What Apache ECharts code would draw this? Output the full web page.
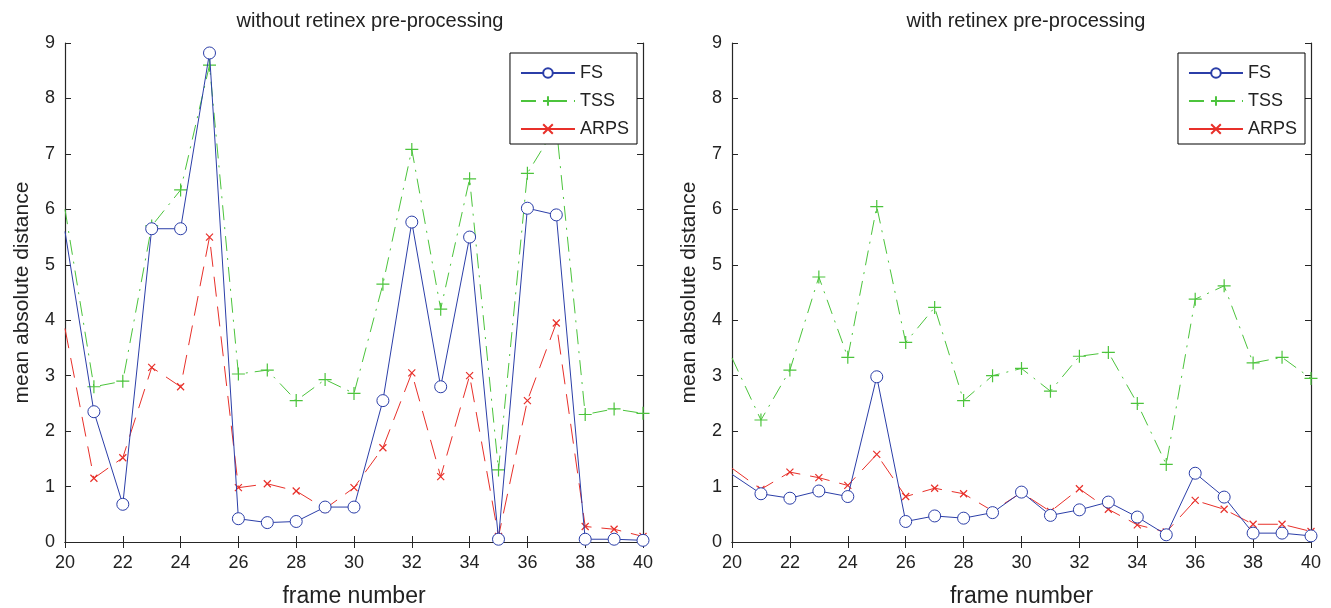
<!DOCTYPE html>
<html><head><meta charset="utf-8">
<script src="https://cdn.jsdelivr.net/npm/echarts@6/dist/echarts.min.js"></script>
<style>html,body{margin:0;padding:0;background:#fff}#c{width:1331px;height:608px}</style>
</head><body><div id="c"></div>
<script>
const frames = [20,21,22,23,24,25,26,27,28,29,30,31,32,33,34,35,36,37,38,39,40];
const titles = ['without retinex pre-processing','with retinex pre-processing'];
const seriesNames = ['FS','TSS','ARPS'];
const xTicks = [20,22,24,26,28,30,32,34,36,38,40];
const yTicks = [0,1,2,3,4,5,6,7,8,9];
// without retinex (value at 20 is where the line enters the axes)
const fsWithout   = [5.6,2.35,0.68,5.65,5.65,8.82,0.42,0.35,0.37,0.63,0.63,2.55,5.77,2.8,5.5,0.05,6.02,5.9,0.05,0.05,0.03];
const tssWithout  = [6.0,2.8,2.9,5.7,6.35,8.6,3.03,3.1,2.55,2.93,2.68,4.65,7.08,4.2,6.55,1.3,6.65,7.5,2.3,2.4,2.32];
const arpsWithout = [3.85,1.15,1.52,3.15,2.8,5.5,0.98,1.05,0.92,0.6,0.98,1.7,3.05,1.18,3.0,0.1,2.55,3.95,0.28,0.23,0.1];
// with retinex
const fsWith   = [1.22,0.87,0.79,0.92,0.82,2.98,0.37,0.47,0.43,0.53,0.9,0.48,0.58,0.72,0.45,0.13,1.24,0.81,0.16,0.16,0.11];
const tssWith  = [3.32,2.2,3.1,4.78,3.33,6.05,3.6,4.23,2.55,3.0,3.13,2.72,3.35,3.42,2.5,1.4,4.38,4.62,3.23,3.33,2.95];
const arpsWith = [1.33,0.95,1.26,1.16,1.02,1.58,0.82,0.97,0.87,0.56,0.89,0.55,0.96,0.59,0.31,0.18,0.75,0.59,0.32,0.32,0.19];

const BLUE='#2b3ea8', GREEN='#4cc43c', RED='#e8302a', AX='#262626';
const FONT='"Liberation Sans", Arial, Helvetica, sans-serif';
const plus='path://M0,5L10,5M5,0L5,10';
const cross='path://M0,0L10,10M10,0L0,10';

const grids=[{left:65,right:688,top:43,bottom:66,outerBoundsMode:'none',containLabel:false},
             {left:732,right:20,top:43,bottom:66,outerBoundsMode:'none',containLabel:false}];
// first frame (20) is only the line's entry point at the axis edge: no marker there
const pair=(a)=>frames.map((f,i)=> i===0 ? {value:[f,a[i]],symbol:'none'} : [f,a[i]]);
const datasets=[[fsWithout,tssWithout,arpsWithout],[fsWith,tssWith,arpsWith]];

const xAxis=[],yAxis=[],series=[],title=[],legend=[];
grids.forEach((g,k)=>{
  xAxis.push({gridIndex:k,type:'value',min:20,max:40,interval:2,position:'bottom',
    name:'frame number',nameLocation:'middle',nameGap:43,nameMoveOverlap:false,
    nameTextStyle:{fontFamily:FONT,fontSize:23,color:'#222',verticalAlign:'top'},
    axisLine:{lineStyle:{color:AX,width:1.2}},axisTick:{inside:true,length:6,lineStyle:{color:AX}},
    axisLabel:{fontFamily:FONT,fontSize:18,color:'#222',margin:12,formatter:v=>xTicks.includes(v)?String(v):''},
    splitLine:{show:false}});
  xAxis.push({gridIndex:k,type:'value',min:20,max:40,interval:2,position:'top',
    axisLine:{lineStyle:{color:AX,width:1.2}},axisTick:{inside:true,length:6,lineStyle:{color:AX}},
    axisLabel:{show:false},splitLine:{show:false}});
  yAxis.push({gridIndex:k,type:'value',min:0,max:9,interval:1,position:'left',
    name:'mean absolute distance',nameLocation:'middle',nameGap:32,nameRotate:90,nameMoveOverlap:false,
    nameTextStyle:{fontFamily:FONT,fontSize:21,color:'#222'},
    axisLine:{lineStyle:{color:AX,width:1.2}},axisTick:{inside:true,length:6,lineStyle:{color:AX}},
    axisLabel:{fontFamily:FONT,fontSize:18,color:'#222',margin:10,formatter:v=>yTicks.includes(v)?String(v):''},
    splitLine:{show:false}});
  yAxis.push({gridIndex:k,type:'value',min:0,max:9,interval:1,position:'right',
    axisLine:{lineStyle:{color:AX,width:1.2}},axisTick:{inside:true,length:6,lineStyle:{color:AX}},
    axisLabel:{show:false},splitLine:{show:false}});
  const cx = k===0 ? 365 : 1021;
  title.push({text:titles[k],left:cx,top:6,textAlign:'center',
    textStyle:{fontFamily:FONT,fontSize:20,fontWeight:'normal',color:'#222'}});
  legend.push({data:[{name:'FS'},{name:'TSS'},{name:'ARPS',lineStyle:{type:'solid'}}],
    orient:'vertical',right:k===0?694:26,top:53,
    backgroundColor:'#fff',borderColor:'#000',borderWidth:1,padding:[11,8,6,10],
    itemWidth:54,itemHeight:12,itemGap:10,selectedMode:false,
    textStyle:{fontFamily:FONT,fontSize:18,color:'#222'}});
  const d=datasets[k];
  const xi=k*2, yi=k*2;
  series.push({name:'FS',type:'line',xAxisIndex:xi,yAxisIndex:yi,data:pair(d[0]),
    symbol:'circle',symbolSize:12,showAllSymbol:true,z:5,
    lineStyle:{color:BLUE,width:1},itemStyle:{color:'#fff',borderColor:BLUE,borderWidth:1},
    emphasis:{disabled:true}});
  series.push({name:'TSS',type:'line',xAxisIndex:xi,yAxisIndex:yi,data:pair(d[1]),
    symbol:plus,symbolSize:13,showAllSymbol:true,z:3,
    lineStyle:{color:GREEN,width:1,type:[15,7,2,7]},itemStyle:{color:'none',borderColor:GREEN,borderWidth:1.2},
    emphasis:{disabled:true}});
  series.push({name:'ARPS',type:'line',xAxisIndex:xi,yAxisIndex:yi,data:pair(d[2]),
    symbol:cross,symbolSize:7,showAllSymbol:true,z:4,
    lineStyle:{color:RED,width:1,type:[20,10]},itemStyle:{color:'none',borderColor:RED,borderWidth:1.2},
    emphasis:{disabled:true}});
});

const chart=echarts.init(document.getElementById('c'),null,{renderer:'canvas'});
chart.setOption({animation:false,backgroundColor:'#fff',grid:grids,xAxis,yAxis,series,title,legend});
</script></body></html>
